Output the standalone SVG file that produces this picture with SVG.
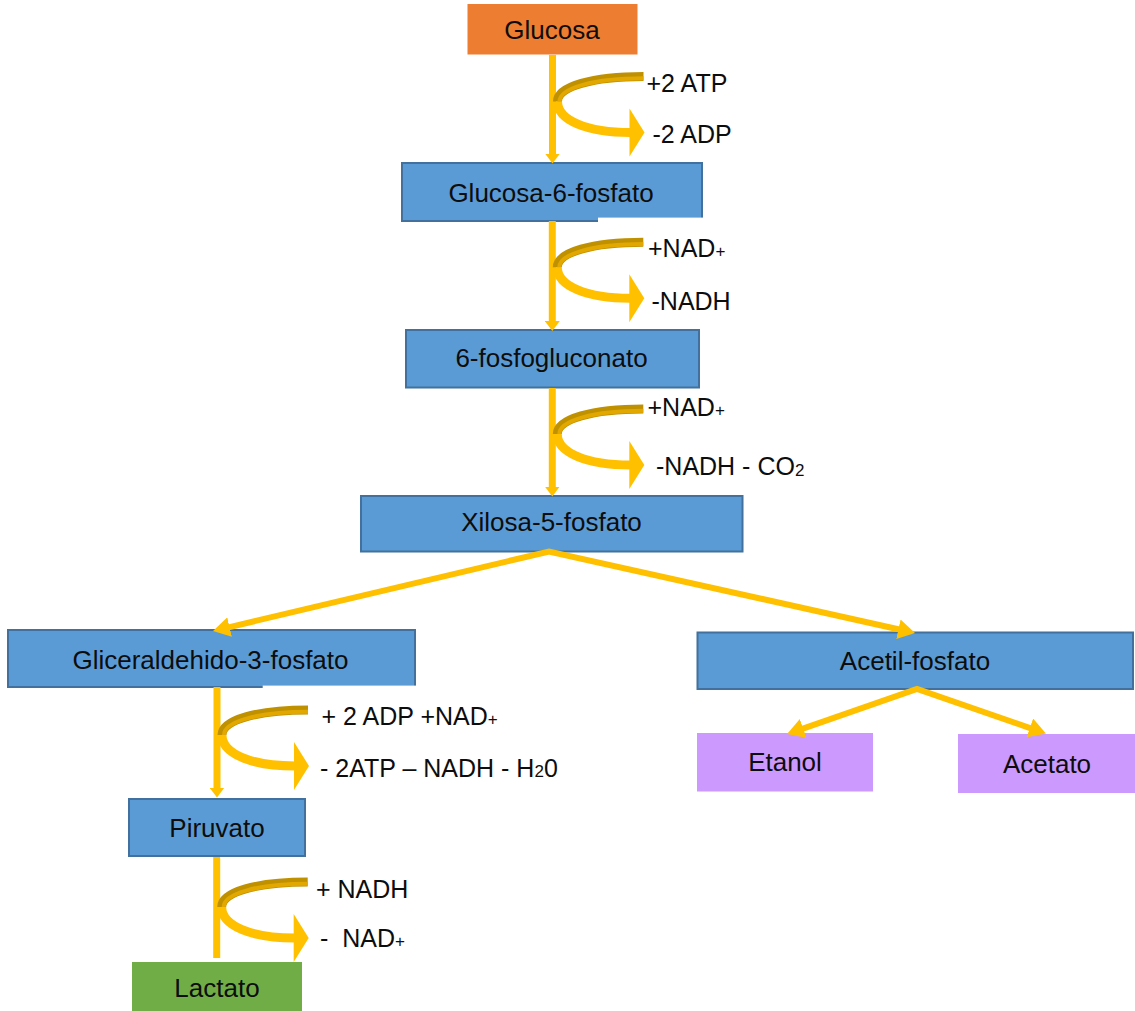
<svg xmlns="http://www.w3.org/2000/svg" width="1135" height="1011" viewBox="0 0 1135 1011">
<style>
  .blue{fill:#5B9BD5;stroke:#41719C;stroke-width:2}
  .orange{fill:#ED7D31}
  .green{fill:#70AD47}
  .purple{fill:#CC99FF}
  .t{font-family:"Liberation Sans",Arial,sans-serif;font-size:26px;fill:#0D0D0D;text-anchor:middle}
  .lbl{font-family:"Liberation Sans",Arial,sans-serif;font-size:25px;fill:#0D0D0D;white-space:pre}
  .sm{font-size:17px}
  .vline{stroke:#FFC000;stroke-width:7;fill:none}
  .dline{stroke:#FFC000;stroke-width:6;fill:none;stroke-linejoin:miter}
  .cover{fill:#FFFFFF}
</style>
<defs>
  <marker id="vh" markerUnits="userSpaceOnUse" markerWidth="11" markerHeight="15" refX="0.5" refY="7.5" orient="auto">
    <path d="M0,0 L10,7.5 L0,15 z" fill="#FFC000"/>
  </marker>
  <marker id="dh" markerUnits="userSpaceOnUse" markerWidth="18" markerHeight="20" refX="1" refY="10" orient="auto-start-reverse">
    <path d="M0,0 L17,10 L0,20 z" fill="#FFC000"/>
  </marker>
  <g id="bend">
    <path d="M5,25 C5,44 35,56 78,56" stroke="#FFC000" stroke-width="9" fill="none"/>
    <polygon points="77,32 92,56 77,80" fill="#FFC000"/>
    <path d="M91,0 C40,0 5,10 5,25" stroke="#BF9000" stroke-width="9" fill="none"/>
    <path d="M91,1.8 C41,1.8 7,11.5 7,25" stroke="#E2A800" stroke-width="4" fill="none"/>
  </g>
</defs>

<g id="nodes">
  <g id="glucosa">
    <rect class="orange" x="467.5" y="4" width="170" height="50.5"/>
    <text class="t" x="552" y="38.5">Glucosa</text>
  </g>
  <g id="glucosa6f">
    <rect class="blue" x="402" y="163" width="300" height="58"/>
    <rect class="cover" x="598" y="217.6" width="106" height="5"/>
    <text class="t" x="551" y="201.5">Glucosa-6-fosfato</text>
  </g>
  <g id="fosfogluconato">
    <rect class="blue" x="406" y="330" width="293" height="57.5"/>
    <text class="t" x="551.5" y="367">6-fosfogluconato</text>
  </g>
  <g id="xilosa">
    <rect class="blue" x="361" y="496" width="381.5" height="55.5"/>
    <text class="t" x="551.5" y="531">Xilosa-5-fosfato</text>
  </g>
  <g id="gliceraldehido">
    <rect class="blue" x="8" y="630" width="407" height="57"/>
    <rect class="cover" x="262.7" y="685.6" width="155" height="5"/>
    <text class="t" x="210.5" y="668.5">Gliceraldehido-3-fosfato</text>
  </g>
  <g id="acetilfosfato">
    <rect class="blue" x="697.5" y="632.5" width="435.5" height="56.5"/>
    <text class="t" x="915" y="669.5">Acetil-fosfato</text>
  </g>
  <g id="etanol">
    <rect class="purple" x="697" y="733" width="176" height="58.5"/>
    <text class="t" x="785" y="771">Etanol</text>
  </g>
  <g id="acetato">
    <rect class="purple" x="958" y="734" width="177" height="59"/>
    <text class="t" x="1047" y="772.5">Acetato</text>
  </g>
  <g id="piruvato">
    <rect class="blue" x="129" y="799" width="176" height="57"/>
    <text class="t" x="217" y="837">Piruvato</text>
  </g>
  <g id="lactato">
    <rect class="green" x="132" y="962" width="170" height="52"/>
    <text class="t" x="217" y="997">Lactato</text>
  </g>
</g>

<g id="connectors">
  <line class="vline" x1="552.5" y1="55" x2="552.5" y2="154" marker-end="url(#vh)"/>
  <line class="vline" x1="552.3" y1="221" x2="552.3" y2="321.5" marker-end="url(#vh)"/>
  <line class="vline" x1="552.3" y1="388" x2="552.3" y2="487" marker-end="url(#vh)"/>
  <line class="vline" x1="217" y1="687" x2="217" y2="788" marker-end="url(#vh)"/>
  <line class="vline" x1="216.7" y1="857" x2="216.7" y2="958"/>
  <polyline class="dline" points="228.6,627.3 549,551.5 899.4,629.5" marker-start="url(#dh)" marker-end="url(#dh)"/>
  <polyline class="dline" points="802.2,728.8 917,689 1030.8,728.3" marker-start="url(#dh)" marker-end="url(#dh)"/>
  <use href="#bend" x="552.5" y="76.5"/>
  <use href="#bend" x="552.3" y="242.3"/>
  <use href="#bend" x="552.3" y="409"/>
  <use href="#bend" x="217" y="710"/>
  <use href="#bend" x="216.7" y="882"/>
</g>

<g id="labels">
  <text class="lbl" x="646.5" y="91.5">+2 ATP</text>
  <text class="lbl" x="652.5" y="143.3">-2 ADP</text>
  <text class="lbl" x="648" y="257.3">+NAD<tspan class="sm">+</tspan></text>
  <text class="lbl" x="651.5" y="310">-NADH</text>
  <text class="lbl" x="647.5" y="416">+NAD<tspan class="sm">+</tspan></text>
  <text class="lbl" x="656" y="475">-NADH - CO<tspan class="sm" dy="1">2</tspan></text>
  <text class="lbl" x="321.5" y="725">+ 2 ADP +NAD<tspan class="sm">+</tspan></text>
  <text class="lbl" x="320" y="777.3">- 2ATP – NADH - H<tspan class="sm">2</tspan>0</text>
  <text class="lbl" x="316" y="898.3">+ NADH</text>
  <text class="lbl" x="320" y="946.7">-  NAD<tspan class="sm">+</tspan></text>
</g>
</svg>
